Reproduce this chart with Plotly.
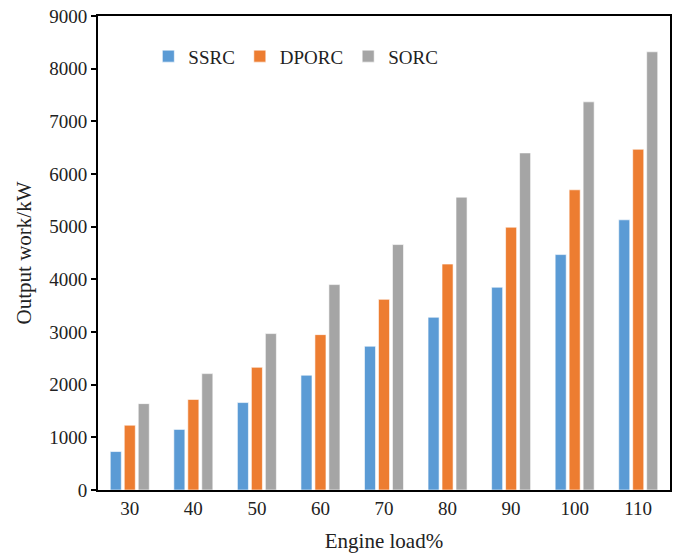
import plotly.graph_objects as go

# Engine load (%) categories
loads = ["30", "40", "50", "60", "70", "80", "90", "100", "110"]

# Output work (kW) for each cycle
ssrc = [730, 1150, 1660, 2180, 2730, 3280, 3850, 4470, 5130]
dporc = [1230, 1720, 2330, 2950, 3620, 4290, 4990, 5700, 6470]
sorc = [1640, 2210, 2970, 3900, 4660, 5560, 6400, 7370, 8320]

y_ticks = [0, 1000, 2000, 3000, 4000, 5000, 6000, 7000, 8000, 9000]

series = [
    ("SSRC", ssrc, "#5B9BD5"),
    ("DPORC", dporc, "#ED7D31"),
    ("SORC", sorc, "#A5A5A5"),
]

fig = go.Figure()
for name, vals, color in series:
    fig.add_trace(go.Bar(
        x=loads, y=vals, name=name,
        marker=dict(color=color, line=dict(color="white", width=0.6)),
    ))

serif = "Liberation Serif"
txt = "#222222"

fig.update_layout(
    width=678, height=560,
    margin=dict(l=98, r=6, t=12, b=70),
    paper_bgcolor="white", plot_bgcolor="white",
    barmode="group", bargap=0.34, bargroupgap=0.21,
    font=dict(family=serif, size=19, color=txt),
    showlegend=True,
    legend=dict(
        orientation="h", x=0.088, y=0.915, xanchor="left", yanchor="middle",
        bgcolor="rgba(0,0,0,0)", font=dict(size=19, family=serif, color=txt),
        itemwidth=30,
    ),
    xaxis=dict(
        title=dict(text="Engine load%", font=dict(size=21, family=serif, color=txt), standoff=16),
        showline=True, linecolor="black", linewidth=2, mirror=True,
        ticks="", showgrid=False, tickfont=dict(size=19, family=serif, color=txt),
    ),
    yaxis=dict(
        title=dict(text="Output work/kW", font=dict(size=21, family=serif, color=txt), standoff=12),
        range=[0, 9000], tickvals=y_ticks,
        showline=True, linecolor="black", linewidth=2, mirror=True,
        ticks="outside", ticklen=5, tickwidth=1.5, tickcolor="black",
        showgrid=False, zeroline=False, tickfont=dict(size=19, family=serif, color=txt),
    ),
)

fig.write_html("out.html")
